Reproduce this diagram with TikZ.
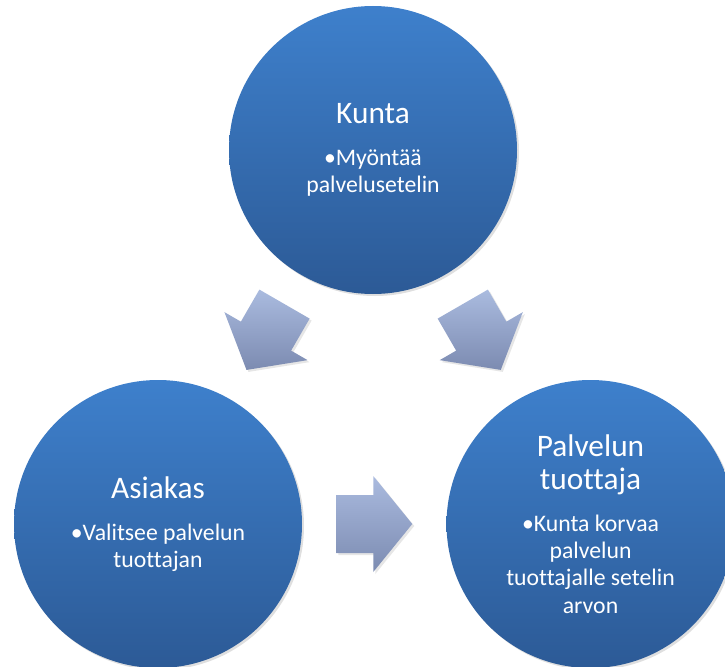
\documentclass[tikz,border=0pt]{standalone}
\usepackage{fontspec}
\setmainfont{Carlito}[RawFeature={-liga;-clig;-dlig;-calt}]
\usetikzlibrary{positioning,calc,shadows}

\definecolor{circtop}{RGB}{62,128,204}
\definecolor{circbot}{RGB}{44,90,150}
\definecolor{arrtop}{RGB}{170,187,223}
\definecolor{arrbot}{RGB}{124,139,177}
\newcommand{\partytitle}{\fontsize{23.5}{27}\selectfont}
\newcommand{\partytext}{\fontsize{17.8}{20.5}\selectfont}

\begin{document}
\begin{tikzpicture}[x=0.75pt, y=-0.75pt,
    party/.style={circle, minimum size=216pt, inner sep=0pt, align=center, text=white,
        top color=circtop, bottom color=circbot, font=\partytext,
        drop shadow={shadow xshift=1.5pt, shadow yshift=-1.5pt, opacity=0.25}},
    flowarrow/.pic={
        \path[top color=arrtop, bottom color=arrbot,
            drop shadow={shadow xshift=1.5pt, shadow yshift=-1.5pt, opacity=0.2}]
            (-38,-29) -- (-1,-29) -- (-1,-48) -- (38,0) -- (-1,48) -- (-1,29) -- (-38,29) -- cycle;}]
    \useasboundingbox (0,0) rectangle (725,667);
    \clip (0,0) rectangle (725,667);

    % The three parties
    \node[party] (kunta) at (373,150)
        {{\partytitle Kunta}\\[10.5pt]\textbullet Myöntää\\palvelusetelin};
    \node[party] (asiakas) at (158,524)
        {{\partytitle Asiakas}\\[11pt]\textbullet Valitsee palvelun\\tuottajan};
    \node[party, right=108pt of asiakas] (tuottaja)
        {{\partytitle Palvelun}\\[4.3pt]{\partytitle tuottaja}\\[11pt]\textbullet Kunta korvaa\\palvelun\\tuottajalle setelin\\arvon};

    % Block arrows between them
    \pic[rotate=-120] (toasiakas) at ($(kunta)!0.5!(asiakas)$) {flowarrow};
    \pic[rotate=-60] (totuottaja) at ($(kunta)!0.5!(tuottaja)$) {flowarrow};
    \pic (asiakastotuottaja) at ($(asiakas)!0.5!(tuottaja)$) {flowarrow};
\end{tikzpicture}
\end{document}
